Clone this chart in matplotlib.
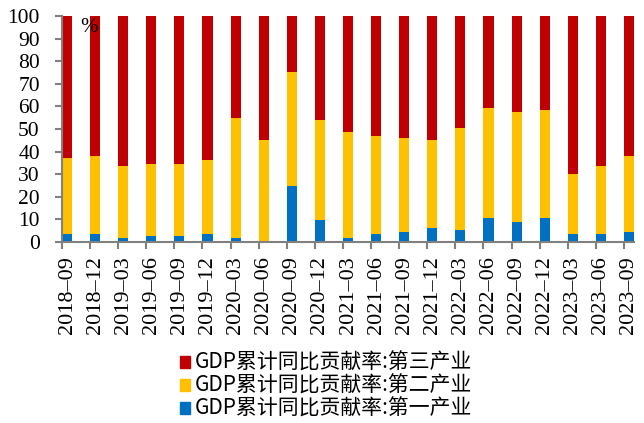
import matplotlib
matplotlib.use("Agg")
import matplotlib.pyplot as plt
from matplotlib.patches import Patch
from matplotlib.ticker import FixedLocator
import numpy as np

# numbers in a Times-like serif, Chinese legend in Noto CJK
plt.rcParams['font.family'] = 'serif'
plt.rcParams['font.serif'] = ['Liberation Serif', 'DejaVu Serif']

quarters = ["2018-09", "2018-12", "2019-03", "2019-06", "2019-09", "2019-12",
            "2020-03", "2020-06", "2020-09", "2020-12", "2021-03", "2021-06",
            "2021-09", "2021-12", "2022-03", "2022-06", "2022-09", "2022-12",
            "2023-03", "2023-06", "2023-09"]
primary = [3.5, 3.5, 1.8, 2.7, 2.7, 3.5, 1.8, 0.0, 24.8, 9.7, 1.8, 3.5,
           4.4, 6.2, 5.3, 10.6, 8.8, 10.6, 3.5, 3.5, 4.4]
secondary = [33.7, 34.6, 31.8, 31.8, 31.8, 32.8, 53.1, 45.1, 50.4, 44.3, 46.9, 43.4,
             41.6, 38.9, 45.1, 48.7, 48.7, 47.8, 26.6, 30.1, 33.7]
tertiary = [62.8, 61.9, 66.4, 65.5, 65.5, 63.7, 45.1, 54.9, 24.8, 46.0, 51.3, 53.1,
            54.0, 54.9, 49.6, 40.7, 42.5, 41.6, 69.9, 66.4, 61.9]
series_names = ["GDP累计同比贡献率:第一产业", "GDP累计同比贡献率:第二产业",
                "GDP累计同比贡献率:第三产业"]
colors = ["#0070C0", "#FFC000", "#C00000"]

W, H = 644, 423
fig = plt.figure(figsize=(W / 100, H / 100), dpi=100)
ax = fig.add_axes([62 / W, (H - 242) / H, 572 / W, 226 / H])

x = np.arange(len(quarters))
w = 0.36
p = np.array(primary)
s = np.array(secondary)
t = np.array(tertiary)
ax.bar(x, p, w, color=colors[0], linewidth=0)
ax.bar(x, s, w, bottom=p, color=colors[1], linewidth=0)
ax.bar(x, t, w, bottom=p + s, color=colors[2], linewidth=0)

ax.set_xlim(-w / 2, len(x) - 1 + w / 2)
ax.set_ylim(0, 100)
ax.set_yticks(range(0, 101, 10))
ax.set_yticklabels([str(v) for v in range(0, 101, 10)], size=15.5)

# tick marks sit at the left edge of each bar, labels at the bar centre
ax.xaxis.set_major_locator(FixedLocator(x - w / 2))
ax.xaxis.set_major_formatter(plt.NullFormatter())
ax.xaxis.set_minor_locator(FixedLocator(x))
ax.set_xticklabels([q.replace("-", "–") for q in quarters], minor=True,
                   rotation=90, size=16)
ax.tick_params(axis='x', which='minor', length=0, pad=10)
ax.tick_params(axis='x', which='major', length=5, width=1.5, color='#808080')
ax.tick_params(axis='y', length=5, width=1.5, color='#808080', pad=11)

for side in ['top', 'right']:
    ax.spines[side].set_visible(False)
for side in ['left', 'bottom']:
    ax.spines[side].set_color('#808080')
    ax.spines[side].set_linewidth(1.5)

ax.text(0.047, 0.95, "%", transform=ax.transAxes, ha='center', va='center', size=15)

handles = [Patch(color=colors[i]) for i in (2, 1, 0)]
labels = [series_names[i] for i in (2, 1, 0)]
fig.legend(handles, labels, loc='center', bbox_to_anchor=(326 / W, 1 - 386 / H),
           frameon=False, prop={'family': ['Noto Sans CJK SC', 'DejaVu Sans'], 'size': 15},
           handlelength=0.5, handleheight=0.5, handletextpad=0.2,
           labelspacing=0.05, borderaxespad=0, borderpad=0)

fig.savefig("out.png", dpi=100)
